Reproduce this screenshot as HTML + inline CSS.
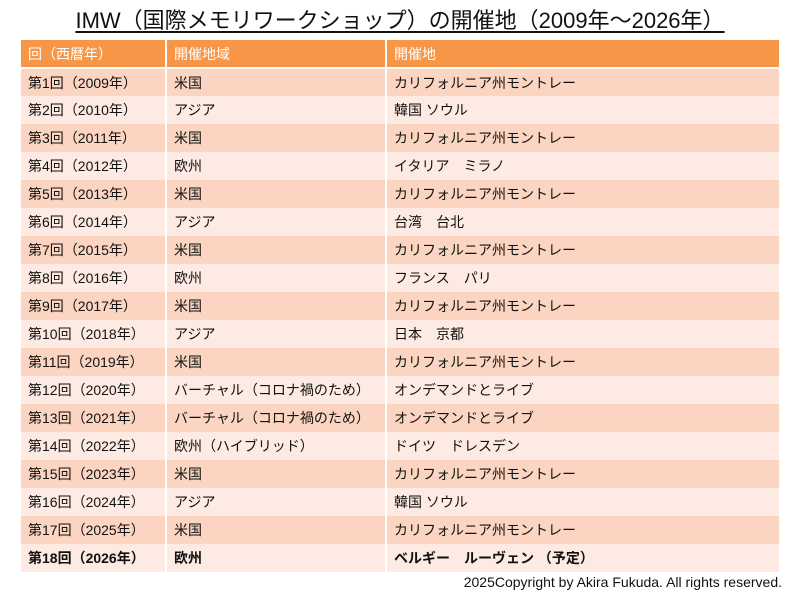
<!DOCTYPE html>
<html><head><meta charset="utf-8"><style>
body{margin:0;width:800px;height:600px;background:#fff;font-family:"Liberation Sans","Noto Sans CJK JP",sans-serif;overflow:hidden;position:relative}
h1{position:absolute;top:7px;left:0;width:800px;text-align:center;margin:0;font-weight:normal;font-size:22px;line-height:28px;text-decoration:underline;text-decoration-thickness:2px;text-underline-offset:3px;color:#111}
table{position:absolute;left:19px;top:40px;width:762px;border-collapse:collapse;table-layout:fixed}
td,th{height:28px;padding:0 0 0 7px;font-size:14px;text-align:left;border-left:2px solid #fff;border-right:2px solid #fff;color:#111;white-space:nowrap;box-sizing:border-box}
th{background:#F79646;color:#fff;font-weight:normal;border-bottom:2px solid #fff}
tr:nth-child(odd) td{background:#FBD5C1}
tr:nth-child(even) td{background:#FDEAE2}
tr.b td{font-weight:bold}
.c{position:absolute;right:18px;top:574px;font-size:14px;color:#111}
</style></head><body>
<h1>IMW（国際メモリワークショップ）の開催地（2009年～2026年）</h1>
<table>
<colgroup><col style="width:146px"><col style="width:220px"><col></colgroup>
<thead><tr><th>回（西暦年）</th><th>開催地域</th><th>開催地</th></tr></thead>
<tbody>
<tr><td>第1回（2009年）</td><td>米国</td><td>カリフォルニア州モントレー</td></tr>
<tr><td>第2回（2010年）</td><td>アジア</td><td>韓国 ソウル</td></tr>
<tr><td>第3回（2011年）</td><td>米国</td><td>カリフォルニア州モントレー</td></tr>
<tr><td>第4回（2012年）</td><td>欧州</td><td>イタリア　ミラノ</td></tr>
<tr><td>第5回（2013年）</td><td>米国</td><td>カリフォルニア州モントレー</td></tr>
<tr><td>第6回（2014年）</td><td>アジア</td><td>台湾　台北</td></tr>
<tr><td>第7回（2015年）</td><td>米国</td><td>カリフォルニア州モントレー</td></tr>
<tr><td>第8回（2016年）</td><td>欧州</td><td>フランス　パリ</td></tr>
<tr><td>第9回（2017年）</td><td>米国</td><td>カリフォルニア州モントレー</td></tr>
<tr><td>第10回（2018年）</td><td>アジア</td><td>日本　京都</td></tr>
<tr><td>第11回（2019年）</td><td>米国</td><td>カリフォルニア州モントレー</td></tr>
<tr><td>第12回（2020年）</td><td>バーチャル（コロナ禍のため）</td><td>オンデマンドとライブ</td></tr>
<tr><td>第13回（2021年）</td><td>バーチャル（コロナ禍のため）</td><td>オンデマンドとライブ</td></tr>
<tr><td>第14回（2022年）</td><td>欧州（ハイブリッド）</td><td>ドイツ　ドレスデン</td></tr>
<tr><td>第15回（2023年）</td><td>米国</td><td>カリフォルニア州モントレー</td></tr>
<tr><td>第16回（2024年）</td><td>アジア</td><td>韓国 ソウル</td></tr>
<tr><td>第17回（2025年）</td><td>米国</td><td>カリフォルニア州モントレー</td></tr>
<tr class="b"><td>第18回（2026年）</td><td>欧州</td><td>ベルギー　ルーヴェン （予定）</td></tr>
</tbody></table>
<div class="c">2025Copyright by Akira Fukuda. All rights reserved.</div>
</body></html>
